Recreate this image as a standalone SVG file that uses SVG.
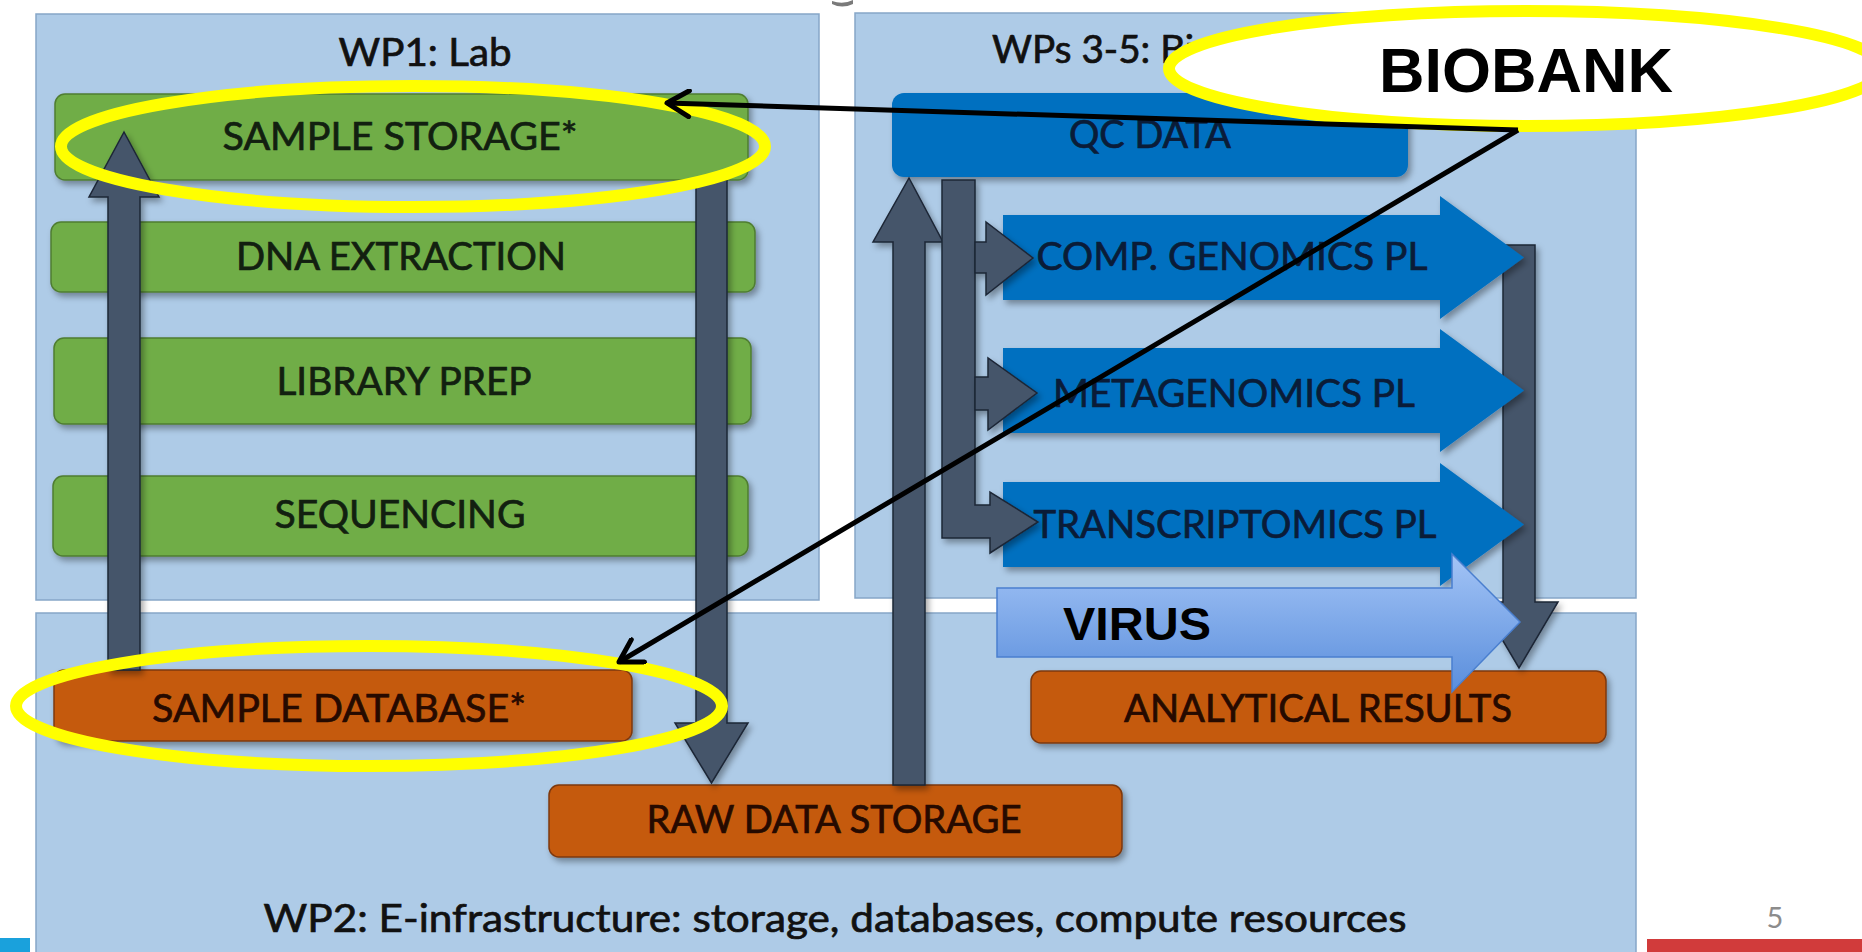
<svg xmlns="http://www.w3.org/2000/svg" width="1862" height="952" viewBox="0 0 1862 952">
<style>
  .panel { fill: #aecbe7; stroke: #86a6c8; stroke-width: 1.5; }
  .green { fill: #70ad47; stroke: #4f7d31; stroke-width: 1.5; filter: url(#shadow); }
  .orange { fill: #c55a11; stroke: #7e380a; stroke-width: 1.5; filter: url(#shadow); }
  .blue { fill: #0070c0; stroke: none; filter: url(#shadow); }
  .flow { fill: #44546a; stroke: #1c2636; stroke-width: 1.5; filter: url(#shadow); }
  .hl { fill: none; stroke: #ffff00; stroke-width: 12; }
  .t { font-family: Lato, "Liberation Sans", sans-serif; font-size: 38px; text-anchor: middle; stroke-width: 0.7px; }
  .tg { fill: #122010; stroke: #122010; }
  .to { fill: #260a00; stroke: #260a00; }
  .tb { fill: #0a1c38; stroke: #0a1c38; }
  .tp { fill: #111111; stroke: #111111; }
  .bold { font-family: "Liberation Sans", Arial, sans-serif; font-weight: bold; fill: #000; text-anchor: middle; }
  .note { fill: none; stroke: #000; stroke-width: 5; }
</style>
<defs>
  <filter id="shadow" x="-10%" y="-10%" width="130%" height="140%">
    <feDropShadow dx="3" dy="4" stdDeviation="3" flood-color="#000" flood-opacity="0.35"/>
  </filter>
  <linearGradient id="virusGrad" x1="0" y1="0" x2="0" y2="1">
    <stop offset="0" stop-color="#a3c4f6"/>
    <stop offset="1" stop-color="#5a8edc"/>
  </linearGradient>
  <marker id="chev" viewBox="0 0 30 30" refX="27" refY="15" markerWidth="30" markerHeight="30" markerUnits="userSpaceOnUse" orient="auto">
    <path d="M5,2 L27,15 L5,28" fill="none" stroke="#000" stroke-width="5" stroke-linecap="round" stroke-linejoin="round"/>
  </marker>
</defs>

<rect width="1862" height="952" fill="#ffffff"/>

<!-- panels -->
<g id="panel-wp1">
  <rect class="panel" x="36" y="14" width="783" height="586"/>
  <text class="t tp" x="425" y="66" textLength="173" lengthAdjust="spacingAndGlyphs">WP1: Lab</text>
</g>
<g id="panel-wp35">
  <rect class="panel" x="855" y="13" width="781" height="585"/>
  <text class="t tp" x="992" y="63" style="text-anchor:start" textLength="202" lengthAdjust="spacingAndGlyphs">WPs 3-5: Bi</text>
</g>
<g id="panel-wp2">
  <rect class="panel" x="36" y="613" width="1600" height="350"/>
  <text class="t tp" x="835" y="932" textLength="1143" lengthAdjust="spacingAndGlyphs">WP2: E-infrastructure: storage, databases, compute resources</text>
</g>

<!-- decorative fragments -->
<path d="M832,1 Q843,5 853,0 L853,4 Q842,9 832,4 Z" fill="#7a7a7a"/>
<rect x="0" y="938" width="30" height="14" fill="#1aa1dc"/>
<rect x="1647" y="939" width="215" height="13" fill="#d13b3b"/>
<text x="1775" y="928" font-family="Lato, 'Liberation Sans', sans-serif" font-size="29" fill="#8c8c8c" text-anchor="middle">5</text>

<!-- green lab nodes -->
<g id="sample-storage">
  <rect class="green" x="55" y="94" width="693" height="86" rx="10"/>
  <text class="t tg" x="400" y="150" textLength="355" lengthAdjust="spacingAndGlyphs">SAMPLE STORAGE*</text>
</g>
<g id="dna-extraction">
  <rect class="green" x="51" y="222" width="704" height="70" rx="10"/>
  <text class="t tg" x="401" y="270" textLength="330" lengthAdjust="spacingAndGlyphs">DNA EXTRACTION</text>
</g>
<g id="library-prep">
  <rect class="green" x="54" y="338" width="697" height="86" rx="10"/>
  <text class="t tg" x="404" y="395" textLength="255" lengthAdjust="spacingAndGlyphs">LIBRARY PREP</text>
</g>
<g id="sequencing">
  <rect class="green" x="53" y="476" width="695" height="80" rx="10"/>
  <text class="t tg" x="400" y="528" textLength="251" lengthAdjust="spacingAndGlyphs">SEQUENCING</text>
</g>

<!-- orange infrastructure nodes -->
<g id="sample-database">
  <rect class="orange" x="54" y="670" width="578" height="71" rx="10"/>
  <text class="t to" x="339" y="722" textLength="374" lengthAdjust="spacingAndGlyphs">SAMPLE DATABASE*</text>
</g>
<g id="analytical-results">
  <rect class="orange" x="1031" y="671" width="575" height="72" rx="10"/>
  <text class="t to" x="1318" y="722" textLength="388" lengthAdjust="spacingAndGlyphs">ANALYTICAL RESULTS</text>
</g>
<g id="raw-data-storage">
  <rect class="orange" x="549" y="785" width="573" height="72" rx="10"/>
  <text class="t to" x="834" y="833" textLength="375" lengthAdjust="spacingAndGlyphs">RAW DATA STORAGE</text>
</g>

<!-- QC data -->
<g id="qc-data">
  <rect class="blue" x="892" y="93" width="516" height="84" rx="12"/>
  <text class="t tb" x="1150" y="148" textLength="162" lengthAdjust="spacingAndGlyphs">QC DATA</text>
</g>

<!-- connector running behind the pipelines -->
<g id="connectors-back">
  <path class="flow" d="M1503,245 L1535,245 L1535,602 L1558,602 L1519,668 L1480,602 L1503,602 Z"/>
</g>

<!-- pipeline nodes -->
<g id="comp-genomics">
  <path class="blue" d="M1003,215 L1440,215 L1440,196 L1524,257.5 L1440,319 L1440,300 L1003,300 Z"/>
  <text class="t tb" x="1232" y="270" textLength="391" lengthAdjust="spacingAndGlyphs">COMP. GENOMICS PL</text>
</g>
<g id="metagenomics">
  <path class="blue" d="M1003,348 L1440,348 L1440,329 L1524,390.5 L1440,452 L1440,433 L1003,433 Z"/>
  <text class="t tb" x="1234" y="407" textLength="362" lengthAdjust="spacingAndGlyphs">METAGENOMICS PL</text>
</g>
<g id="transcriptomics">
  <path class="blue" d="M1003,482 L1440,482 L1440,463 L1524,524.5 L1440,586 L1440,567 L1003,567 Z"/>
  <text class="t tb" x="1235" y="538" textLength="403" lengthAdjust="spacingAndGlyphs">TRANSCRIPTOMICS PL</text>
</g>
<g id="virus">
  <path d="M997,588 L1452,588 L1452,554 L1520,622 L1452,692 L1452,657 L997,657 Z" fill="url(#virusGrad)" stroke="#4a7fcf" stroke-width="1.5"/>
  <text class="bold" x="1137" y="640" font-size="46" textLength="148" lengthAdjust="spacingAndGlyphs">VIRUS</text>
</g>

<!-- flow connectors -->
<g id="connectors">
  <path class="flow" d="M108,670 L108,197 L89,197 L124,132 L159,197 L140,197 L140,670 Z"/>
  <path class="flow" d="M696,180 L727,180 L727,723 L748,723 L711.5,783 L675,723 L696,723 Z"/>
  <path class="flow" d="M893,785 L893,242 L873,242 L909,178 L943,242 L925,242 L925,785 Z"/>
  <path class="flow" d="M942,180 L975,180 L975,505 L990,505 L990,492 L1038,522 L990,553 L990,538 L942,538 Z"/>
  <path class="flow" d="M975,242 L986,242 L986,222 L1033,258 L986,295 L986,273 L975,273 Z"/>
  <path class="flow" d="M975,377 L988,377 L988,358 L1037,393 L988,430 L988,410 L975,410 Z"/>
</g>

<!-- highlight ellipses -->
<g id="highlight-storage">
  <ellipse class="hl" cx="413" cy="146.5" rx="352" ry="60.5"/>
</g>
<g id="highlight-database">
  <ellipse class="hl" cx="369" cy="706" rx="353" ry="60"/>
</g>

<!-- BIOBANK callout -->
<g id="biobank">
  <ellipse cx="1526" cy="68.5" rx="357" ry="57.5" fill="#ffffff" stroke="#ffff00" stroke-width="12"/>
  <text class="bold" x="1526" y="92" font-size="63" textLength="294" lengthAdjust="spacingAndGlyphs">BIOBANK</text>
</g>

<!-- annotation arrows -->
<g id="annotation-connectors">
  <line class="note" x1="1518" y1="130" x2="667" y2="103" marker-end="url(#chev)"/>
  <line class="note" x1="1518" y1="130" x2="619" y2="662" marker-end="url(#chev)"/>
</g>
</svg>
